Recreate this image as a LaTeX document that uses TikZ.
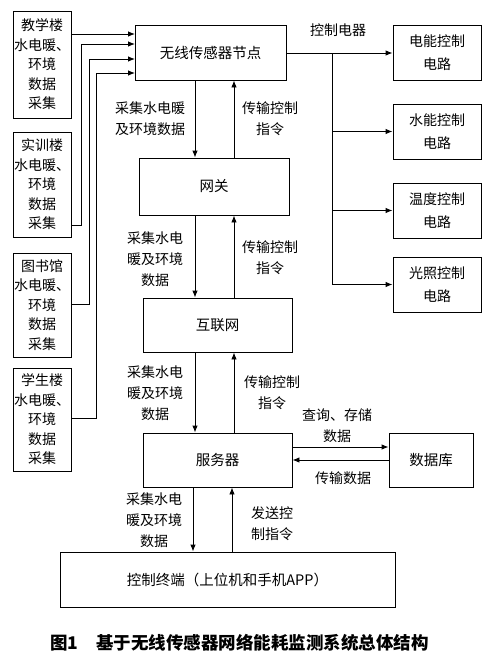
\documentclass[tikz,border=0pt]{standalone}
\usepackage{fontspec}
\newfontfamily\cjk{Noto Sans CJK SC}
\usetikzlibrary{arrows.meta,positioning}

\tikzset{
    box/.style={draw, line width=0.9pt, rectangle, inner sep=0pt, align=center,
        font=\cjk\fontsize{14.5}{20}\selectfont},
    srcbox/.style={box, minimum width=58pt, font=\cjk\fontsize{14}{19.5}\selectfont},
    ctlbox/.style={box, minimum width=88pt, minimum height=55pt, font=\cjk\fontsize{14}{23}\selectfont},
    lbl/.style={align=center, inner sep=0pt, font=\cjk\fontsize{14}{21}\selectfont},
    arr/.style={line width=0.9pt, -{Latex[length=7pt,width=5.5pt]}}
}

\begin{document}
\begin{tikzpicture}[x=1pt, y=-1pt]
        \useasboundingbox (0,0) rectangle (500,664);
        % main column
        \node[box, minimum width=151pt, minimum height=55pt] (sensor) at (210.5,52.5) {无线传感器节点};
        \node[box, minimum width=150pt, minimum height=57pt] (gw) at (214,186.5) {网关};
        \node[box, minimum width=149pt, minimum height=54pt] (net) at (217.5,325) {互联网};
        \node[box, minimum width=149pt, minimum height=54pt] (server) at (217.5,460) {服务器};
        \node[box, minimum width=84pt, minimum height=54pt] (db) at (431,460) {数据库};
        \node[box, minimum width=335pt, minimum height=55pt] (term) at (227.5,579.5) {控制终端（上位机和手机APP）};
        % data sources
        \node[srcbox, minimum height=107pt] (src1) at (42,64.5) {教学楼\\水电暖、\\环境\\数据\\采集};
        \node[srcbox, minimum height=105pt] (src2) at (42,184.5) {实训楼\\水电暖、\\环境\\数据\\采集};
        \node[srcbox, minimum height=104pt] (src3) at (42,305) {图书馆\\水电暖、\\环境\\数据\\采集};
        \node[srcbox, minimum height=103pt] (src4) at (42,419.5) {学生楼\\水电暖、\\环境\\数据\\采集};
        % control circuits
        \node[ctlbox] (elec) at (437,53) {电能控制\\电路};
        \node[ctlbox] (water) at (437,131.5) {水能控制\\电路};
        \node[ctlbox] (temp) at (437,210.5) {温度控制\\电路};
        \node[ctlbox] (light) at (437,284.5) {光照控制\\电路};

        \coordinate (dn) at (195,0);
        \coordinate (up) at (234,0);
        \coordinate (dn2) at (193,0);
        \coordinate (up2) at (232,0);
        \coordinate (in1) at (135,34);
        \coordinate (in2) at (135,44);
        \coordinate (in3) at (135,59);
        \coordinate (in4) at (135,73);
        \coordinate (bus) at (332,53);

        % inputs to sensor node
        \draw[arr] (src1.east |- in1) -- (in1);
        \draw[arr] (src2.east |- 0,225) -| (81,44) -- (in2);
        \draw[arr] (src3.east |- 0,304) -| (89,59) -- (in3);
        \draw[arr] (src4.east |- 0,418) -| (96,73) -- (in4);

        % vertical links
        \draw[arr] (sensor.south -| dn) -- (gw.north -| dn);
        \draw[arr] (gw.north -| up) -- (sensor.south -| up);
        \draw[arr] (gw.south -| dn) -- (net.north -| dn);
        \draw[arr] (net.north -| up) -- (gw.south -| up);
        \draw[arr] (net.south -| dn) -- (server.north -| dn);
        \draw[arr] (server.north -| up) -- (net.south -| up);
        \draw[arr] (server.south -| dn2) -- (term.north -| dn2);
        \draw[arr] (term.north -| up2) -- (server.south -| up2);

        % server and database
        \draw[arr] (server.east |- 0,447) -- (db.west |- 0,447);
        \draw[arr] (db.west |- 0,460) -- (server.east |- 0,460);

        % control outputs
        \draw[arr] (sensor.east |- bus) -- (elec.west);
        \draw[line width=0.9pt] (bus) -- (332,284.5);
        \draw[arr] (water.west -| bus) -- (water.west);
        \draw[arr] (temp.west -| bus) -- (temp.west);
        \draw[arr] (light.west -| bus) -- (light.west);

        % labels
        \node[lbl] (l1) at (150,119) {采集水电暖\\及环境数据};
        \node[lbl] (r1) at (270,119) {传输控制\\指令};
        \node[lbl] (l2) at (155,259) {采集水电\\暖及环境\\数据};
        \node[lbl] (r2) at (270,258) {传输控制\\指令};
        \node[lbl] (l3) at (155,393.5) {采集水电\\暖及环境\\数据};
        \node[lbl] (r3) at (272,393) {传输控制\\指令};
        \node[lbl] (l4) at (154,520.5) {采集水电\\暖及环境\\数据};
        \node[lbl] (r4) at (272,524) {发送控\\制指令};
        \node[lbl] (q) at (337,426) {查询、存储\\数据};
        \node[lbl] (t) at (343,478) {传输数据};
        \node[lbl] (ce) at (338,30) {控制电器};

        % caption
        \node[anchor=west, inner sep=0pt, font=\cjk\bfseries\fontsize{17.5}{19}\selectfont] (cap) at (50,643)
            {图1\hspace{18pt}基于无线传感器网络能耗监测系统总体结构};
\end{tikzpicture}
\end{document}
